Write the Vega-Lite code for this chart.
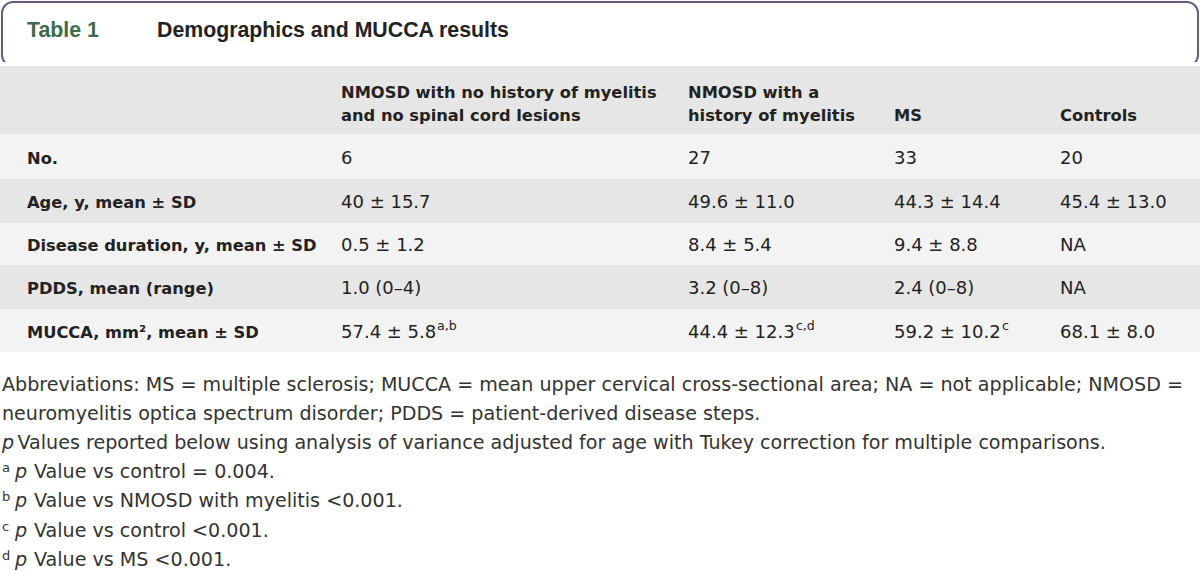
{
  "$schema": "https://vega.github.io/schema/vega-lite/v6.json",
  "width": 1200,
  "height": 571,
  "autosize": {"type": "fit", "contains": "padding"},
  "padding": 0,
  "background": "white",
  "config": {"view": {"stroke": null}, "font": "DejaVu Sans"},
  "datasets": {
    "frame": [{"part": "frame", "top": 0, "bottom": 2}],
    "bands": [
      {"part": "gap", "top": 1, "bottom": 2},
      {"part": "header", "top": 2, "bottom": 3},
      {"part": "row1", "top": 3, "bottom": 4},
      {"part": "row2", "top": 4, "bottom": 5},
      {"part": "row3", "top": 5, "bottom": 6},
      {"part": "row4", "top": 6, "bottom": 7},
      {"part": "row5", "top": 7, "bottom": 8}
    ],
    "title": [
      {"line": 0, "pos": 0, "role": "label", "text": "Table 1"},
      {"line": 0, "pos": 1, "role": "caption", "text": "Demographics and MUCCA results"}
    ],
    "header": [
      {"line": 1, "col": 1, "text": "NMOSD with no history of myelitis"},
      {"line": 2, "col": 1, "text": "and no spinal cord lesions"},
      {"line": 1, "col": 2, "text": "NMOSD with a"},
      {"line": 2, "col": 2, "text": "history of myelitis"},
      {"line": 2, "col": 3, "text": "MS"},
      {"line": 2, "col": 4, "text": "Controls"}
    ],
    "body": [
      {"line": 3, "col": 0, "text": "No."},
      {"line": 3, "col": 1, "text": "6"},
      {"line": 3, "col": 2, "text": "27"},
      {"line": 3, "col": 3, "text": "33"},
      {"line": 3, "col": 4, "text": "20"},
      {"line": 4, "col": 0, "text": "Age, y, mean ± SD"},
      {"line": 4, "col": 1, "text": "40 ± 15.7"},
      {"line": 4, "col": 2, "text": "49.6 ± 11.0"},
      {"line": 4, "col": 3, "text": "44.3 ± 14.4"},
      {"line": 4, "col": 4, "text": "45.4 ± 13.0"},
      {"line": 5, "col": 0, "text": "Disease duration, y, mean ± SD"},
      {"line": 5, "col": 1, "text": "0.5 ± 1.2"},
      {"line": 5, "col": 2, "text": "8.4 ± 5.4"},
      {"line": 5, "col": 3, "text": "9.4 ± 8.8"},
      {"line": 5, "col": 4, "text": "NA"},
      {"line": 6, "col": 0, "text": "PDDS, mean (range)"},
      {"line": 6, "col": 1, "text": "1.0 (0–4)"},
      {"line": 6, "col": 2, "text": "3.2 (0–8)"},
      {"line": 6, "col": 3, "text": "2.4 (0–8)"},
      {"line": 6, "col": 4, "text": "NA"},
      {"line": 7, "col": 0, "text": "MUCCA, mm², mean ± SD"},
      {"line": 7, "col": 1, "text": "57.4 ± 5.8"},
      {"line": 7, "col": 2, "text": "44.4 ± 12.3"},
      {"line": 7, "col": 3, "text": "59.2 ± 10.2"},
      {"line": 7, "col": 4, "text": "68.1 ± 8.0"}
    ],
    "sups": [
      {"line": 7, "col": 1, "text": "a,b"},
      {"line": 7, "col": 2, "text": "c,d"},
      {"line": 7, "col": 3, "text": "c"}
    ],
    "notes": [
      {"line": 8, "pos": 0, "kind": "text", "text": "Abbreviations: MS = multiple sclerosis; MUCCA = mean upper cervical cross-sectional area; NA = not applicable; NMOSD ="},
      {"line": 9, "pos": 0, "kind": "text", "text": "neuromyelitis optica spectrum disorder; PDDS = patient-derived disease steps."},
      {"line": 10, "pos": 0, "kind": "p", "text": "p"},
      {"line": 10, "pos": 2, "kind": "text", "text": "Values reported below using analysis of variance adjusted for age with Tukey correction for multiple comparisons."},
      {"line": 11, "pos": 0, "kind": "mark", "text": "a"},
      {"line": 11, "pos": 1, "kind": "p", "text": "p"},
      {"line": 11, "pos": 3, "kind": "text", "text": "Value vs control = 0.004."},
      {"line": 12, "pos": 0, "kind": "mark", "text": "b"},
      {"line": 12, "pos": 1, "kind": "p", "text": "p"},
      {"line": 12, "pos": 3, "kind": "text", "text": "Value vs NMOSD with myelitis <0.001."},
      {"line": 13, "pos": 0, "kind": "mark", "text": "c"},
      {"line": 13, "pos": 1, "kind": "p", "text": "p"},
      {"line": 13, "pos": 3, "kind": "text", "text": "Value vs control <0.001."},
      {"line": 14, "pos": 0, "kind": "mark", "text": "d"},
      {"line": 14, "pos": 1, "kind": "p", "text": "p"},
      {"line": 14, "pos": 3, "kind": "text", "text": "Value vs MS <0.001."}
    ]
  },
  "layer": [
    {
      "data": {"name": "frame"},
      "mark": {"type": "rect", "fill": "white", "stroke": "#6c5a7e", "strokeWidth": 2, "cornerRadius": 11},
      "encoding": {
        "x": {"field": "part", "type": "nominal", "axis": null, "scale": {"type": "band", "range": [2, 1198], "paddingInner": 0, "paddingOuter": 0}},
        "y": {"field": "top", "type": "quantitative", "axis": null, "scale": {"domain": [0, 1, 2, 3, 4, 5, 6, 7, 8], "range": [2, 62, 66, 134, 179, 223, 265, 309, 352], "zero": false, "nice": false}},
        "y2": {"field": "bottom"}
      }
    },
    {
      "data": {"name": "bands"},
      "mark": {"type": "rect"},
      "encoding": {
        "y": {"field": "top", "type": "quantitative", "axis": null, "scale": {"domain": [0, 1, 2, 3, 4, 5, 6, 7, 8], "range": [2, 62, 66, 134, 179, 223, 265, 309, 352], "zero": false, "nice": false}},
        "y2": {"field": "bottom"},
        "color": {"field": "part", "type": "nominal", "legend": null, "scale": {"domain": ["gap", "header", "row1", "row2", "row3", "row4", "row5"], "range": ["#ffffff", "#e6e6e6", "#f3f3f3", "#e6e6e6", "#f3f3f3", "#e6e6e6", "#f3f3f3"]}}
      }
    },
    {
      "data": {"name": "title"},
      "mark": {"type": "text", "align": "left", "baseline": "alphabetic", "font": "Liberation Sans", "fontSize": 21.3, "fontWeight": "bold"},
      "encoding": {
        "x": {"field": "pos", "type": "quantitative", "axis": null, "scale": {"domain": [0, 1], "range": [27, 157], "zero": false, "nice": false}},
        "y": {"field": "line", "type": "quantitative", "axis": null, "scale": {"domain": [0, 1, 2, 3, 4, 5, 6, 7, 8, 14], "range": [36.7, 97.7, 120.7, 163.5, 208, 251, 294, 337.5, 391, 565.6], "zero": false, "nice": false}},
        "text": {"field": "text"},
        "color": {"field": "role", "type": "nominal", "legend": null, "scale": {"domain": ["label", "caption"], "range": ["#3e6b49", "#222222"]}}
      }
    },
    {
      "data": {"name": "header"},
      "mark": {"type": "text", "align": "left", "baseline": "alphabetic", "font": "DejaVu Sans", "fontSize": 16.3, "fontWeight": "bold", "color": "#222222"},
      "encoding": {
        "x": {"field": "col", "type": "quantitative", "axis": null, "scale": {"domain": [0, 1, 2, 3, 4], "range": [27, 341, 688, 894, 1060], "zero": false, "nice": false}},
        "y": {"field": "line", "type": "quantitative", "axis": null, "scale": {"domain": [0, 1, 2, 3, 4, 5, 6, 7, 8, 14], "range": [36.7, 97.7, 120.7, 163.5, 208, 251, 294, 337.5, 391, 565.6], "zero": false, "nice": false}},
        "text": {"field": "text"}
      }
    },
    {
      "data": {"name": "body"},
      "transform": [{"filter": "datum.col == 0"}],
      "mark": {"type": "text", "align": "left", "baseline": "alphabetic", "font": "DejaVu Sans", "fontSize": 16.3, "fontWeight": "bold", "color": "#222222"},
      "encoding": {
        "x": {"field": "col", "type": "quantitative", "axis": null, "scale": {"domain": [0, 1, 2, 3, 4], "range": [27, 341, 688, 894, 1060], "zero": false, "nice": false}},
        "y": {"field": "line", "type": "quantitative", "axis": null, "scale": {"domain": [0, 1, 2, 3, 4, 5, 6, 7, 8, 14], "range": [36.7, 97.7, 120.7, 163.5, 208, 251, 294, 337.5, 391, 565.6], "zero": false, "nice": false}},
        "text": {"field": "text"}
      }
    },
    {
      "data": {"name": "body"},
      "transform": [{"filter": "datum.col > 0"}],
      "mark": {"type": "text", "align": "left", "baseline": "alphabetic", "font": "DejaVu Sans", "fontSize": 18, "color": "#222222"},
      "encoding": {
        "x": {"field": "col", "type": "quantitative", "axis": null, "scale": {"domain": [0, 1, 2, 3, 4], "range": [27, 341, 688, 894, 1060], "zero": false, "nice": false}},
        "y": {"field": "line", "type": "quantitative", "axis": null, "scale": {"domain": [0, 1, 2, 3, 4, 5, 6, 7, 8, 14], "range": [36.7, 97.7, 120.7, 163.5, 208, 251, 294, 337.5, 391, 565.6], "zero": false, "nice": false}},
        "text": {"field": "text"}
      }
    },
    {
      "data": {"name": "sups"},
      "mark": {"type": "text", "align": "left", "baseline": "alphabetic", "font": "DejaVu Sans", "fontSize": 12.5, "dy": -7.5, "color": "#222222"},
      "encoding": {
        "x": {"field": "col", "type": "quantitative", "axis": null, "scale": {"domain": [1, 2, 3], "range": [437, 796, 1002], "zero": false, "nice": false}},
        "y": {"field": "line", "type": "quantitative", "axis": null, "scale": {"domain": [0, 1, 2, 3, 4, 5, 6, 7, 8, 14], "range": [36.7, 97.7, 120.7, 163.5, 208, 251, 294, 337.5, 391, 565.6], "zero": false, "nice": false}},
        "text": {"field": "text"}
      }
    },
    {
      "data": {"name": "notes"},
      "transform": [{"filter": "datum.kind == 'text'"}],
      "mark": {"type": "text", "align": "left", "baseline": "alphabetic", "font": "DejaVu Sans", "fontSize": 19.1, "color": "#333333"},
      "encoding": {
        "x": {"field": "pos", "type": "quantitative", "axis": null, "scale": {"domain": [0, 1, 2, 3], "range": [2, 15, 17.5, 34], "zero": false, "nice": false}},
        "y": {"field": "line", "type": "quantitative", "axis": null, "scale": {"domain": [0, 1, 2, 3, 4, 5, 6, 7, 8, 14], "range": [36.7, 97.7, 120.7, 163.5, 208, 251, 294, 337.5, 391, 565.6], "zero": false, "nice": false}},
        "text": {"field": "text"}
      }
    },
    {
      "data": {"name": "notes"},
      "transform": [{"filter": "datum.kind == 'p'"}],
      "mark": {"type": "text", "align": "left", "baseline": "alphabetic", "font": "DejaVu Sans", "fontSize": 19.1, "fontStyle": "italic", "color": "#333333"},
      "encoding": {
        "x": {"field": "pos", "type": "quantitative", "axis": null, "scale": {"domain": [0, 1, 2, 3], "range": [2, 15, 17.5, 34], "zero": false, "nice": false}},
        "y": {"field": "line", "type": "quantitative", "axis": null, "scale": {"domain": [0, 1, 2, 3, 4, 5, 6, 7, 8, 14], "range": [36.7, 97.7, 120.7, 163.5, 208, 251, 294, 337.5, 391, 565.6], "zero": false, "nice": false}},
        "text": {"field": "text"}
      }
    },
    {
      "data": {"name": "notes"},
      "transform": [{"filter": "datum.kind == 'mark'"}],
      "mark": {"type": "text", "align": "left", "baseline": "alphabetic", "font": "DejaVu Sans", "fontSize": 13, "dy": -6, "color": "#333333"},
      "encoding": {
        "x": {"field": "pos", "type": "quantitative", "axis": null, "scale": {"domain": [0, 1, 2, 3], "range": [2, 15, 17.5, 34], "zero": false, "nice": false}},
        "y": {"field": "line", "type": "quantitative", "axis": null, "scale": {"domain": [0, 1, 2, 3, 4, 5, 6, 7, 8, 14], "range": [36.7, 97.7, 120.7, 163.5, 208, 251, 294, 337.5, 391, 565.6], "zero": false, "nice": false}},
        "text": {"field": "text"}
      }
    }
  ],
  "resolve": {"scale": {"x": "independent", "y": "independent", "color": "independent"}}
}
